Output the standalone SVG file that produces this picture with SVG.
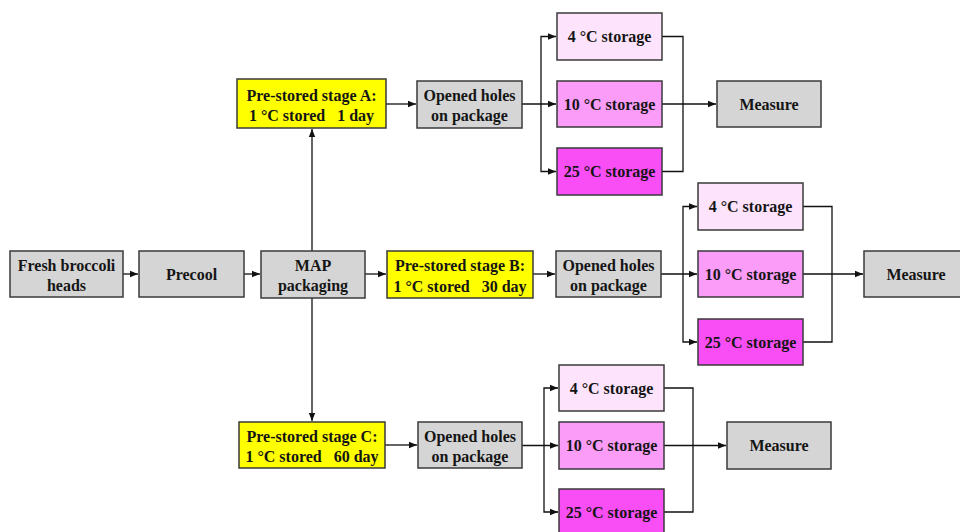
<svg xmlns="http://www.w3.org/2000/svg" width="960" height="532" viewBox="0 0 960 532">
<defs>
<marker id="ah" markerUnits="userSpaceOnUse" markerWidth="8" markerHeight="8" viewBox="0 0 8 8" refX="8" refY="4" orient="auto">
<path d="M0,0.8 L8,4 L0,7.2 Z" fill="#111"/>
</marker>
<style>
rect{stroke:#3a3a3a;stroke-width:1.5}
.g{fill:#d5d5d5}
.y{fill:#ffff00}
.p4{fill:#fde4fc}
.p10{fill:#fb9cf9}
.p25{fill:#f94ef6}
text{font-family:"Liberation Serif","Times New Roman",serif;font-weight:bold;font-size:16px;fill:#151515;text-anchor:middle;white-space:pre}
.c line,.c path{stroke:#111;stroke-width:1.3;fill:none}
.a{marker-end:url(#ah)}
</style>
</defs>
<rect x="0" y="0" width="960" height="532" fill="#fff" stroke="none" style="stroke:none"/>

<g class="c" id="connectors">
<line class="a" x1="123" y1="274" x2="138" y2="274"/>
<line class="a" x1="244" y1="274" x2="260" y2="274"/>
<line class="a" x1="365" y1="274" x2="386" y2="274"/>
<line class="a" x1="312" y1="251" x2="312" y2="129"/>
<line class="a" x1="312" y1="298" x2="312" y2="421"/>
<!-- A -->
<line class="a" x1="386" y1="104" x2="416" y2="104"/>
<line class="a" x1="522" y1="104" x2="556" y2="104"/>
<path class="a" d="M541,104 V36.5 H556"/>
<path class="a" d="M541,104 V171.5 H556"/>
<path d="M662,36.5 H683 V171.5 H662"/>
<line class="a" x1="662" y1="104" x2="716" y2="104"/>
<!-- B -->
<line class="a" x1="533" y1="274" x2="555" y2="274"/>
<line class="a" x1="661" y1="274" x2="697" y2="274"/>
<path class="a" d="M683,274 V206.5 H697"/>
<path class="a" d="M683,274 V342 H697"/>
<path d="M803,206.5 H832 V342 H803"/>
<line class="a" x1="803" y1="274" x2="863" y2="274"/>
<!-- C -->
<line class="a" x1="385" y1="445" x2="417" y2="445"/>
<line class="a" x1="522" y1="445.5" x2="558" y2="445.5"/>
<path class="a" d="M544,445.5 V388 H558"/>
<path class="a" d="M544,445.5 V512 H558"/>
<path d="M664,388 H693 V512 H664"/>
<line class="a" x1="664" y1="445.5" x2="726" y2="445.5"/>
</g>

<g id="fresh"><rect class="g" x="10" y="251" width="113" height="46"/><text x="66.5" y="271">Fresh broccoli</text><text x="66.5" y="291">heads</text></g>
<g id="precool"><rect class="g" x="139" y="251" width="105" height="46"/><text x="191.5" y="280">Precool</text></g>
<g id="map"><rect class="g" x="261" y="251" width="104" height="47"/><text x="313" y="271">MAP</text><text x="313" y="291">packaging</text></g>

<g id="stageA"><rect class="y" x="237" y="79" width="149" height="49"/><text x="311.5" y="101">Pre-stored stage A:</text><text x="311.5" y="121">1 °C stored   1 day</text></g>
<g id="holesA"><rect class="g" x="417" y="81" width="105" height="47"/><text x="469.5" y="101">Opened holes</text><text x="469.5" y="121">on package</text></g>
<g id="a4"><rect class="p4" x="557" y="13" width="105" height="47"/><text x="609.5" y="42">4 °C storage</text></g>
<g id="a10"><rect class="p10" x="557" y="81" width="105" height="46"/><text x="609.5" y="110">10 °C storage</text></g>
<g id="a25"><rect class="p25" x="557" y="148" width="105" height="47"/><text x="609.5" y="177">25 °C storage</text></g>
<g id="measureA"><rect class="g" x="717" y="81" width="104" height="46"/><text x="769" y="110">Measure</text></g>

<g id="stageB"><rect class="y" x="387" y="251" width="146" height="47"/><text x="460" y="271">Pre-stored stage B:</text><text x="460" y="292">1 °C stored   30 day</text></g>
<g id="holesB"><rect class="g" x="556" y="251" width="105" height="46"/><text x="608.5" y="271">Opened holes</text><text x="608.5" y="291">on package</text></g>
<g id="b4"><rect class="p4" x="698" y="183" width="105" height="47"/><text x="750.5" y="212">4 °C storage</text></g>
<g id="b10"><rect class="p10" x="698" y="251" width="105" height="46"/><text x="750.5" y="280">10 °C storage</text></g>
<g id="b25"><rect class="p25" x="698" y="319" width="105" height="46"/><text x="750.5" y="348">25 °C storage</text></g>
<g id="measureB"><rect class="g" x="864" y="251" width="104" height="46"/><text x="916" y="280">Measure</text></g>

<g id="stageC"><rect class="y" x="239" y="422" width="146" height="46"/><text x="312" y="442">Pre-stored stage C:</text><text x="312" y="462">1 °C stored   60 day</text></g>
<g id="holesC"><rect class="g" x="418" y="422" width="104" height="46"/><text x="470" y="442">Opened holes</text><text x="470" y="462">on package</text></g>
<g id="c4"><rect class="p4" x="559" y="365" width="105" height="46"/><text x="611.5" y="394">4 °C storage</text></g>
<g id="c10"><rect class="p10" x="559" y="422" width="105" height="47"/><text x="611.5" y="451">10 °C storage</text></g>
<g id="c25"><rect class="p25" x="559" y="489" width="105" height="47"/><text x="611.5" y="518">25 °C storage</text></g>
<g id="measureC"><rect class="g" x="727" y="422" width="104" height="47"/><text x="779" y="451">Measure</text></g>
</svg>
